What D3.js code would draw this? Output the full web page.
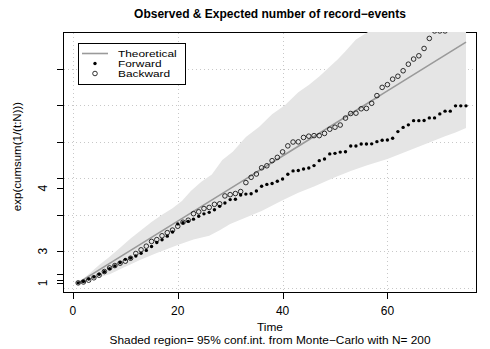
<!DOCTYPE html>
<html>
<head>
<meta charset="utf-8">
<script src="https://cdn.jsdelivr.net/npm/d3@7"></script>
<style>
  html, body { margin: 0; padding: 0; background: #ffffff; }
  svg { display: block; font-family: "Liberation Sans", Arial, Helvetica, sans-serif; }
</style>
</head>
<body>
<svg id="chart" width="490" height="349"></svg>
<script>
// Time index of the series
const time = [1,2,3,4,5,6,7,8,9,10,11,12,13,14,15,16,17,18,19,20,21,22,23,24,25,
  26,27,28,29,30,31,32,33,34,35,36,37,38,39,40,41,42,43,44,45,46,47,48,49,50,
  51,52,53,54,55,56,57,58,59,60,61,62,63,64,65,66,67,68,69,70,71,72,73,74,75];

// Expected value exp(cumsum(1/t))
const theoretical = [2.72,4.48,6.26,8.03,9.81,11.59,13.37,15.15,16.93,18.71,
  20.49,22.27,24.05,25.83,27.61,29.39,31.17,32.95,34.74,36.52,
  38.30,40.08,41.86,43.64,45.42,47.20,48.98,50.76,52.54,54.33,
  56.11,57.89,59.67,61.45,63.23,65.01,66.79,68.57,70.35,72.14,
  73.92,75.70,77.48,79.26,81.04,82.82,84.60,86.38,88.17,89.95,
  91.73,93.51,95.29,97.07,98.85,100.63,102.41,104.19,105.98,107.76,
  109.54,111.32,113.10,114.88,116.66,118.44,120.22,122.00,123.79,125.57,
  127.35,129.13,130.91,132.69,134.47];

// Observed, forward direction
const forward = [2.72,3.5,4.8,6.0,7.4,8.8,10.5,12.0,13.9,15.6,
  16.3,17.4,18.9,20.5,22.6,24.8,26.3,28.3,30.6,35.0,
  35.6,36.4,37.6,39.2,40.5,41.3,42.7,44.6,46.4,48.3,
  48.5,50.8,51.3,51.5,53.0,55.6,56.6,57.1,58.3,59.6,
  62.2,64.0,64.2,65.0,65.6,66.9,69.6,70.5,73.3,73.6,
  74.3,74.5,77.6,77.6,78.7,78.7,78.8,80.0,80.8,80.9,
  81.9,85.5,87.8,89.2,91.5,91.5,91.6,93.0,93.0,95.2,
  96.7,96.7,99.6,99.6,99.6];

// Observed, backward direction
const backward = [2.72,3.2,4.2,5.5,6.9,8.9,10.9,12.2,13.5,14.6,
  16.2,18.8,20.8,22.8,25.4,26.4,28.5,30.2,31.6,33.7,
  35.9,37.0,40.6,41.6,43.4,44.0,45.7,46.0,50.3,51.0,
  51.6,52.7,57.6,60.5,62.3,65.7,66.8,69.6,71.4,74.4,
  77.7,79.8,79.9,82.3,83.0,83.3,83.3,84.5,86.8,87.9,
  89.1,92.9,95.4,95.6,98.0,98.2,101.0,105.2,109.7,111.2,
  114.2,115.8,118.8,122.4,125.2,127.0,131.0,136.5,140.6,140.6,
  140.6,143.0,144.5,146.0,147.5];

// 95% Monte-Carlo envelope (outline vertices)
const bandUpperTime = [1,3,5,7,9,11,13,15,17,19,20.8,22.5,24.5,26.5,28.5,30.5,33,35.5,38,40.5,43,45,47,49,50.5,52,54,56.3,60,65,70,75];
const bandUpper = [2.72,7.5,12.5,17.0,22.0,27.0,31.5,36.0,40.0,43.5,47.5,53.0,58.0,62.0,70.0,74.5,82.5,88.0,95.0,100.0,107.0,111.0,115.7,121.0,125.0,129.5,135.9,140.0,148.0,158.0,168.0,178.0];
const bandLowerTime = [1,4,7,10,13,16,20,23,26,28,30,33,36,40,43,46,50,53,56,60,64,68,71,73,75];
const bandLower = [2.72,5.0,7.5,11.5,15.5,19.0,23.5,26.5,28.5,31.5,35.0,38.5,42.0,48.0,52.0,55.5,60.5,64.0,67.0,70.5,75.0,79.5,83.0,85.0,87.5];

// Axis ticks
const xTicks = [0, 20, 40, 60];
const yGrid = [0, 20, 40, 60, 80, 100, 120];
const yPlainTicks = [20, 40, 60, 80, 100, 120];
const yLogTicks = [1, 1.5, 2, 3, 4];          // placed at exp(k), labelled k
const yLogLabels = ["1", "1.5", "2", "3", "4"];

const titleText = "Observed & Expected number of record\u2212events";
const xLabel = "Time";
const subLabel = "Shaded region= 95% conf.int. from Monte\u2212Carlo with N= 200";
const yLabel = "exp(cumsum(1/(t:N)))";
const legendNames = ["Theoretical", "Forward", "Backward"];

const svg = d3.select("#chart");
const L = 63.5, R = 476.5, T = 32.5, B = 292.5;

const x = d3.scaleLinear().domain([-1.8, 77.0]).range([L, R]);
const y = d3.scaleLinear().domain([-2.55, 139.74]).range([B, T]);

// clip region (includes the frame line itself)
svg.append("clipPath").attr("id", "plotclip")
  .append("rect").attr("x", L - 0.5).attr("y", T - 0.5)
  .attr("width", R - L + 1).attr("height", B - T + 1);

// grid
const grid = svg.append("g").attr("stroke", "#c8c8c8").attr("stroke-width", 1)
  .attr("stroke-dasharray", "1,3").attr("shape-rendering", "crispEdges");
grid.selectAll("line.gx").data(xTicks).join("line")
  .attr("x1", d => Math.round(x(d)) + 0.5).attr("x2", d => Math.round(x(d)) + 0.5)
  .attr("y1", T).attr("y2", B);
grid.selectAll("line.gy").data(yGrid).join("line")
  .attr("y1", d => Math.round(y(d)) + 0.5).attr("y2", d => Math.round(y(d)) + 0.5)
  .attr("x1", L).attr("x2", R);

// frame
svg.append("rect").attr("x", L).attr("y", T).attr("width", R - L).attr("height", B - T)
  .attr("fill", "none").attr("stroke", "#000").attr("stroke-width", 1)
  .attr("shape-rendering", "crispEdges");

const plot = svg.append("g").attr("clip-path", "url(#plotclip)");

// confidence band polygon
const upperPts = bandUpperTime.map((t, i) => [x(t), y(bandUpper[i])]);
const lowerPts = bandLowerTime.map((t, i) => [x(t), y(bandLower[i])]).reverse();
plot.append("path")
  .attr("d", d3.line()(upperPts.concat(lowerPts)) + "Z")
  .attr("fill", "#e5e5e5").attr("stroke", "none");

// theoretical line
plot.append("path")
  .datum(time.map((t, i) => [t, theoretical[i]]))
  .attr("d", d3.line().x(d => x(d[0])).y(d => y(d[1])))
  .attr("fill", "none").attr("stroke", "#9a9a9a").attr("stroke-width", 1.6);

// backward: open circles
plot.selectAll("circle.bw").data(time.map((t, i) => [t, backward[i]])).join("circle")
  .attr("class", "bw")
  .attr("cx", d => x(d[0])).attr("cy", d => y(d[1])).attr("r", 2.3)
  .attr("fill", "none").attr("stroke", "#000").attr("stroke-width", 0.8);

// forward: filled dots
plot.selectAll("circle.fw").data(time.map((t, i) => [t, forward[i]])).join("circle")
  .attr("class", "fw")
  .attr("cx", d => x(d[0])).attr("cy", d => y(d[1])).attr("r", 1.7)
  .attr("fill", "#000");

// x axis
const xa = svg.append("g").attr("shape-rendering", "crispEdges");
xa.append("line").attr("x1", Math.round(x(0)) + 0.5).attr("x2", Math.round(x(60)) + 0.5)
  .attr("y1", B).attr("y2", B).attr("stroke", "#000");
xa.selectAll("line.t").data(xTicks).join("line")
  .attr("x1", d => Math.round(x(d)) + 0.5).attr("x2", d => Math.round(x(d)) + 0.5)
  .attr("y1", B).attr("y2", B + 6.5).attr("stroke", "#000");
xa.selectAll("text").data(xTicks).join("text")
  .attr("x", d => x(d)).attr("y", 315).attr("text-anchor", "middle")
  .attr("font-size", 12).text(d => d);

// y axis: plain ticks
const ya = svg.append("g").attr("shape-rendering", "crispEdges");
ya.selectAll("line.p").data(yPlainTicks).join("line")
  .attr("x1", L - 7).attr("x2", L)
  .attr("y1", d => Math.round(y(d)) + 0.5).attr("y2", d => Math.round(y(d)) + 0.5)
  .attr("stroke", "#000");
// y axis: log ticks at exp(k)
ya.selectAll("line.l").data(yLogTicks).join("line")
  .attr("x1", L - 7).attr("x2", L)
  .attr("y1", d => Math.round(y(Math.exp(d))) + 0.5).attr("y2", d => Math.round(y(Math.exp(d))) + 0.5)
  .attr("stroke", "#000");

// labels drawn bottom-up, skipping any that would overlap the previous one
let lastTop = Infinity;
yLogTicks.forEach((k, i) => {
  const py = y(Math.exp(k));
  const t = ya.append("text")
    .attr("transform", `translate(47,${py}) rotate(-90)`)
    .attr("text-anchor", "middle").attr("font-size", 12).text(yLogLabels[i]);
  const w = t.node().getComputedTextLength();
  const lo = py + w / 2, hi = py - w / 2;
  if (lo > lastTop - 6) { t.remove(); } else { lastTop = hi; }
});

// titles
svg.append("text").attr("x", (L + R) / 2).attr("y", 18).attr("text-anchor", "middle")
  .attr("font-size", 12).attr("font-weight", "bold").text(titleText);
svg.append("text").attr("transform", `translate(${(L + R) / 2},330.5) scale(1.08,1)`)
  .attr("text-anchor", "middle").attr("font-size", 11).text(xLabel);
svg.append("text").attr("transform", `translate(${(L + R) / 2},343.5) scale(1.08,1)`)
  .attr("text-anchor", "middle").attr("font-size", 11).text(subLabel);
svg.append("text").attr("transform", `translate(21,${(T + B) / 2 - 6}) rotate(-90)`)
  .attr("text-anchor", "middle").attr("font-size", 11.5).text(yLabel);

// legend
const lg = svg.append("g");
lg.append("rect").attr("x", 78.5).attr("y", 43.5).attr("width", 107).attr("height", 41)
  .attr("fill", "#fff").attr("stroke", "#000").attr("stroke-width", 1)
  .attr("shape-rendering", "crispEdges");
const rowY = [53.5, 63.5, 73.5];
lg.append("line").attr("x1", 82).attr("x2", 108).attr("y1", rowY[0]).attr("y2", rowY[0])
  .attr("stroke", "#9a9a9a").attr("stroke-width", 1.6);
lg.append("circle").attr("cx", 95).attr("cy", rowY[1]).attr("r", 1.7).attr("fill", "#000");
lg.append("circle").attr("cx", 95).attr("cy", rowY[2]).attr("r", 2.3)
  .attr("fill", "none").attr("stroke", "#000").attr("stroke-width", 0.8);
lg.selectAll("text").data(legendNames).join("text")
  .attr("transform", (d, i) => `translate(118,${rowY[i] + 3.5}) scale(1.25,1)`)
  .attr("font-size", 9.5).text(d => d);
</script>
</body>
</html>
